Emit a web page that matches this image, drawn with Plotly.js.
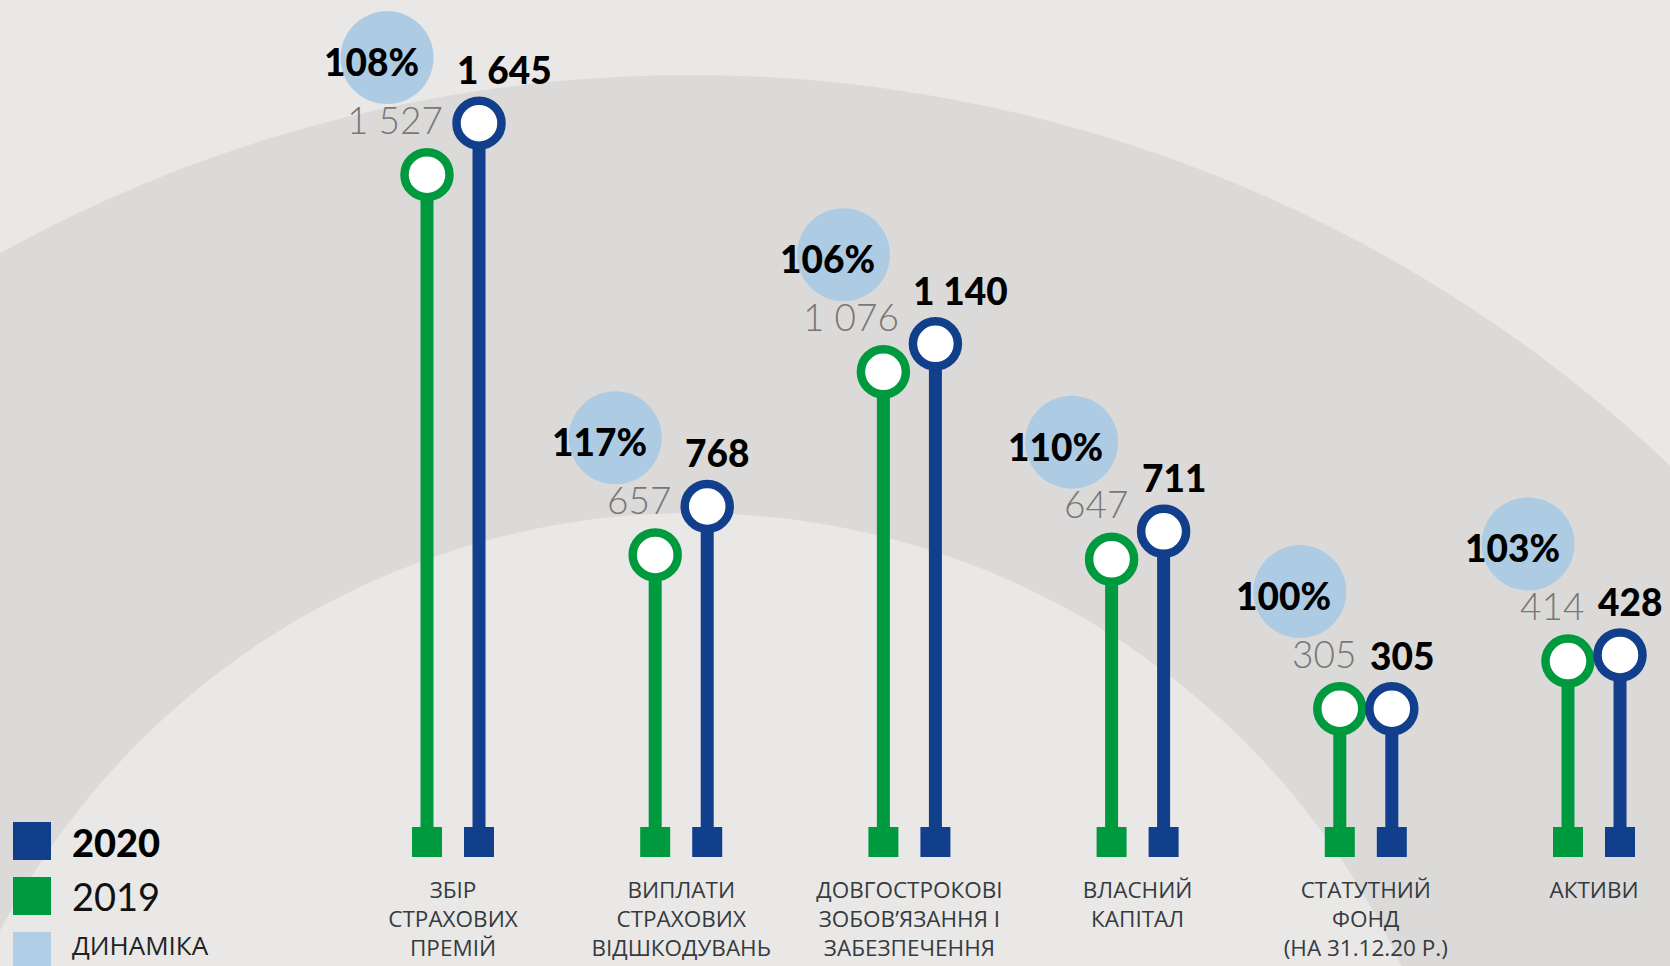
<!DOCTYPE html>
<html>
<head>
<meta charset="utf-8">
<script src="https://cdn.plot.ly/plotly-3.0.1.min.js"></script>
<style>
  html, body { margin: 0; padding: 0; background: #e9e8e6; }
  #chart { width: 1670px; height: 966px; }
</style>
</head>
<body>
<div id="chart"></div>
<script>
// ---- data ----
const categories = [
  "ЗБІР<br>СТРАХОВИХ<br>ПРЕМІЙ",
  "ВИПЛАТИ<br>СТРАХОВИХ<br>ВІДШКОДУВАНЬ",
  "ДОВГОСТРОКОВІ<br>ЗОБОВ’ЯЗАННЯ І<br>ЗАБЕЗПЕЧЕННЯ",
  "ВЛАСНИЙ<br>КАПІТАЛ",
  "СТАТУТНИЙ<br>ФОНД<br>(НА 31.12.20 Р.)",
  "АКТИВИ"
];
const values2019 = [1527, 657, 1076, 647, 305, 414];
const values2020 = [1645, 768, 1140, 711, 305, 428];
const dynamics = [108, 117, 106, 110, 100, 103];
const legendLabels = ["2020", "2019", "ДИНАМІКА"];

// ---- styles ----
const GREEN = "#009a3e";
const BLUE = "#113f8c";
const LIGHTBLUE = "#adcce4";
const FONT = "'Open Sans', 'Noto Sans', sans-serif";
const NUMFONT = "Lato, 'Open Sans', sans-serif";
const W = 1670, H = 966, MB = 92;
const PH = H - MB;

const idx = categories.map((_, i) => i);
const OFF = 0.114;
const x19 = idx.map(i => i - OFF);
const x20 = idx.map(i => i + OFF);
const bubbleX = idx.map(i => i - OFF - 0.175);
const bubbleY = values2019.map(v => v + 268);

function fmt(v) { return String(v).replace(/\B(?=(\d{3})+(?!\d))/g, " "); }
function stems(xs, vs) {
  const x = [], y = [];
  xs.forEach((xv, i) => { x.push(xv, xv, null); y.push(0, vs[i], null); });
  return { x, y };
}
const s19 = stems(x19, values2019);
const s20 = stems(x20, values2020);
const zeros = idx.map(() => 0);

const traces = [
  { x: bubbleX, y: bubbleY, mode: "markers", name: legendLabels[2],
    marker: { size: 93, color: LIGHTBLUE }, hoverinfo: "skip", showlegend: false },
  { x: s19.x, y: s19.y, mode: "lines", name: legendLabels[1],
    line: { color: GREEN, width: 13 }, hoverinfo: "skip", showlegend: false },
  { x: s20.x, y: s20.y, mode: "lines", name: legendLabels[0],
    line: { color: BLUE, width: 13 }, hoverinfo: "skip", showlegend: false },
  { x: x19, y: zeros, mode: "markers", marker: { symbol: "square", size: 30, color: GREEN },
    hoverinfo: "skip", showlegend: false },
  { x: x20, y: zeros, mode: "markers", marker: { symbol: "square", size: 30, color: BLUE },
    hoverinfo: "skip", showlegend: false },
  { x: x19, y: values2019, mode: "markers",
    marker: { symbol: "circle", size: 45, color: "#ffffff", line: { color: GREEN, width: 8.5 } },
    hoverinfo: "skip", showlegend: false },
  { x: x20, y: values2020, mode: "markers",
    marker: { symbol: "circle", size: 45, color: "#ffffff", line: { color: BLUE, width: 8.5 } },
    hoverinfo: "skip", showlegend: false }
];

// pixel -> paper helpers (plot area = full width, top PH pixels)
const px = v => v / W;
const py = v => (PH - v) / PH;
function circle(cx, cy, r, color) {
  return { type: "circle", xref: "paper", yref: "paper", layer: "below",
    x0: px(cx - r), x1: px(cx + r), y0: py(cy + r), y1: py(cy - r),
    fillcolor: color, line: { width: 0 } };
}
function rect(x0, y0, x1, y1, color) {
  return { type: "rect", xref: "paper", yref: "paper", layer: "above",
    x0: px(x0), x1: px(x1), y0: py(y1), y1: py(y0), fillcolor: color, line: { width: 0 } };
}

const shapes = [
  circle(690, 1500, 1425, "#dbdad8"),
  circle(692, 1295, 782, "#e9e8e6"),
  rect(13, 822, 51, 860, BLUE),
  rect(13, 877, 51, 915, GREEN),
  rect(13, 932, 51, 970, "#b0cfe7")
];

const annotations = [];
idx.forEach(i => {
  annotations.push({ x: x20[i], y: values2020[i], text: fmt(values2020[i]), showarrow: false,
    xanchor: "left", yanchor: "bottom", xshift: -24, yshift: 29,
    font: { family: NUMFONT, size: 37, color: "#000000", weight: 900 } });
  annotations.push({ x: x19[i], y: values2019[i], text: fmt(values2019[i]), showarrow: false,
    xanchor: "right", yanchor: "bottom", xshift: 18, yshift: 31,
    font: { family: NUMFONT, size: 37, color: "#777777", weight: 300 } });
  annotations.push({ x: bubbleX[i], y: bubbleY[i], text: dynamics[i] + "%", showarrow: false,
    xanchor: "center", yanchor: "middle", xshift: -16, yshift: -4,
    font: { family: NUMFONT, size: 37, color: "#000000", weight: 900 } });
});
// legend
annotations.push({ xref: "paper", yref: "paper", x: px(70), y: py(842), xanchor: "left", yanchor: "middle",
  text: legendLabels[0], showarrow: false, font: { family: NUMFONT, size: 38, color: "#000", weight: 900 } });
annotations.push({ xref: "paper", yref: "paper", x: px(70), y: py(896), xanchor: "left", yanchor: "middle",
  text: legendLabels[1], showarrow: false, font: { family: NUMFONT, size: 38, color: "#111", weight: 400 } });
annotations.push({ xref: "paper", yref: "paper", x: px(70), y: py(945), xanchor: "left", yanchor: "middle",
  text: legendLabels[2], showarrow: false, font: { family: FONT, size: 26, color: "#222" } });

const S = 0.437; // px per unit
const layout = {
  width: W, height: H, autosize: false,
  margin: { l: 0, r: 0, t: 0, b: MB, pad: 0 },
  paper_bgcolor: "#e9e8e6",
  plot_bgcolor: "rgba(0,0,0,0)",
  showlegend: false,
  xaxis: {
    range: [-453 / 228.2, (W - 453) / 228.2],
    tickvals: idx, ticktext: categories,
    tickfont: { family: FONT, size: 22.5, color: "#353b3e" },
    showgrid: false, zeroline: false, showline: false, ticks: "", fixedrange: true
  },
  yaxis: {
    range: [-(PH - 842) / S, 842 / S],
    visible: false, showgrid: false, zeroline: false, fixedrange: true
  },
  shapes, annotations
};

Plotly.newPlot("chart", traces, layout, { displayModeBar: false, staticPlot: true });
</script>
</body>
</html>
